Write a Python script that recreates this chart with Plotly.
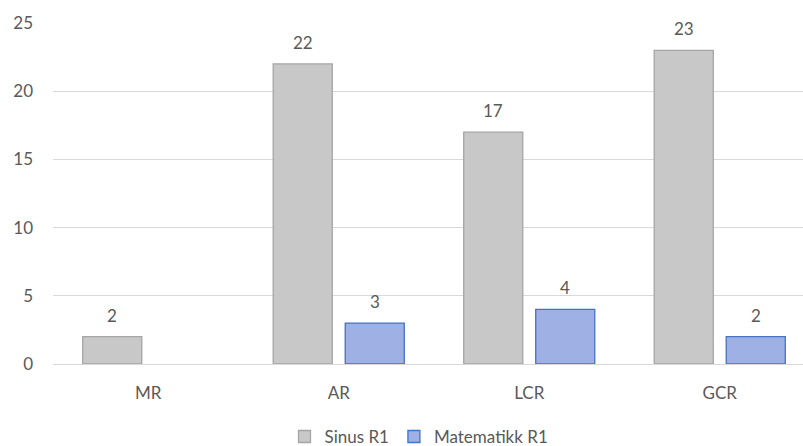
import plotly.graph_objects as go

categories = ["MR", "AR", "LCR", "GCR"]
sinus_r1 = [2, 22, 17, 23]
matematikk_r1 = [None, 3, 4, 2]

text_color = "#595959"
font_family = "Lato, 'Open Sans', sans-serif"
label_size = 17

fig = go.Figure()
fig.add_trace(go.Bar(
    name="Sinus R1",
    x=categories,
    y=sinus_r1,
    marker=dict(color="#c8c8c8", line=dict(color="#a5a5a5", width=1.3)),
))
fig.add_trace(go.Bar(
    name="Matematikk R1",
    x=categories,
    y=matematikk_r1,
    marker=dict(color="#9fb1e4", line=dict(color="#4472c4", width=1.3)),
))

# value labels above each bar, shifted onto the left/right bar of each group
annotations = []
for series, shift in ((sinus_r1, -36), (matematikk_r1, 36)):
    for cat, val in zip(categories, series):
        if val is None:
            continue
        annotations.append(dict(
            x=cat, y=val, xref="x", yref="y",
            text=str(val), showarrow=False,
            xshift=shift, yshift=9, yanchor="bottom",
            font=dict(size=label_size, color=text_color, family=font_family),
        ))

fig.update_layout(
    width=803,
    height=446,
    margin=dict(l=53, r=0, t=23, b=82, autoexpand=False),
    paper_bgcolor="white",
    plot_bgcolor="white",
    barmode="group",
    bargap=0.244,
    bargroupgap=0.18,
    font=dict(family=font_family, size=label_size, color=text_color),
    showlegend=True,
    annotations=annotations,
    legend=dict(
        orientation="h",
        x=0.488, xanchor="center",
        y=-0.214, yanchor="middle",
        font=dict(size=label_size, color=text_color),
        itemwidth=30,
        traceorder="normal",
    ),
    xaxis=dict(
        type="category",
        range=[-0.5, 3.437],
        showgrid=False,
        showline=True,
        linecolor="#d9d9d9",
        linewidth=1,
        ticks="",
        automargin=False,
        tickfont=dict(size=label_size, color=text_color),
        ticklabelstandoff=14,
    ),
    yaxis=dict(
        range=[0, 25],
        tickvals=[0, 5, 10, 15, 20, 25],
        showgrid=True,
        gridcolor="#d9d9d9",
        gridwidth=1,
        zeroline=False,
        showline=False,
        ticks="",
        automargin=False,
        ticklabelstandoff=19,
        tickfont=dict(size=label_size, color=text_color),
    ),
)

fig.write_html("out.html")
